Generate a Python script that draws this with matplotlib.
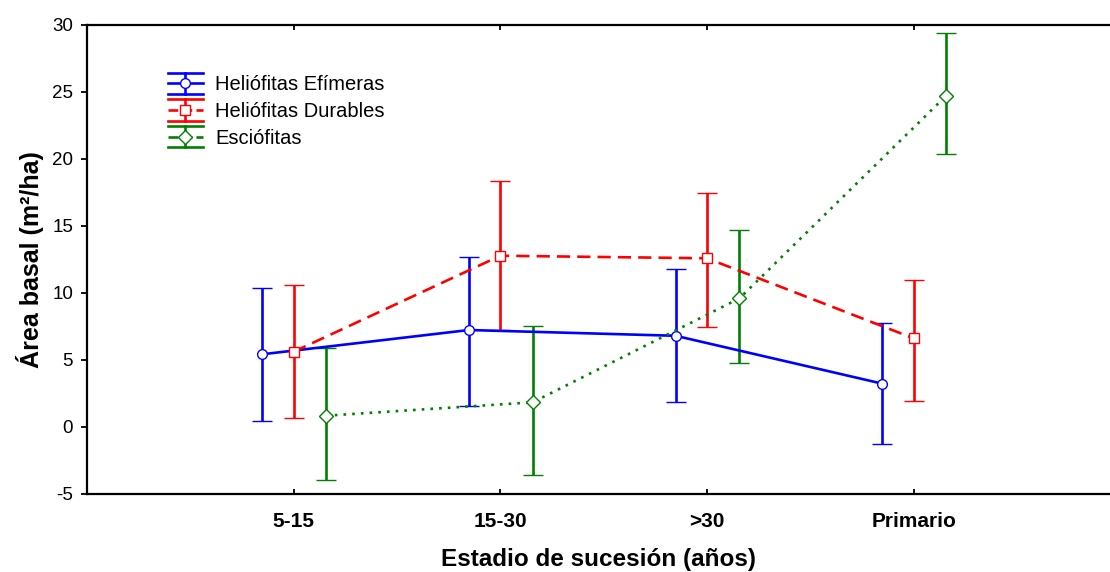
import numpy as np
import matplotlib
matplotlib.use("Agg")
import matplotlib.pyplot as plt
from matplotlib.lines import Line2D
from matplotlib.legend_handler import HandlerBase

plt.rcParams['font.family'] = ['Liberation Sans', 'DejaVu Sans']
plt.rcParams['axes.unicode_minus'] = False

# datos
estadios = ['5-15', '15-30', '>30', 'Primario']
series = ['Heliófitas Efímeras', 'Heliófitas Durables', 'Esciófitas']

efimeras_media = [5.42, 7.23, 6.80, 3.23]
efimeras_inf = [0.44, 1.58, 1.84, -1.30]
efimeras_sup = [10.36, 12.65, 11.76, 7.73]

durables_media = [5.61, 12.77, 12.58, 6.61]
durables_inf = [0.67, 7.23, 7.48, 1.94]
durables_sup = [10.59, 18.34, 17.42, 10.96]

esciofitas_media = [0.84, 1.84, 9.59, 24.70]
esciofitas_inf = [-3.98, -3.56, 4.79, 20.33]
esciofitas_sup = [5.91, 7.50, 14.66, 29.40]

medias = [efimeras_media, durables_media, esciofitas_media]
inferiores = [efimeras_inf, durables_inf, esciofitas_inf]
superiores = [efimeras_sup, durables_sup, esciofitas_sup]

colores = ['#0000ff', '#ff0000', '#008000']
estilos = ['-', (0, (5, 2.7)), (0, (1, 2.3))]
marcadores = ['o', 's', 'D']
tam_marcador = [7, 6.8, 6.8]
desplaz = [-0.152, 0.0, 0.157]
LW = 1.9


class ErrHandler(HandlerBase):
    # icono de leyenda: tapas anchas arriba y abajo, barra vertical, linea y marcador
    def create_artists(self, legend, orig_handle, xdescent, ydescent,
                       width, height, fontsize, trans):
        ln = orig_handle.lines[0]
        c = ln.get_color()
        cy = height / 2 - ydescent
        x0, x1 = -xdescent, -xdescent + width
        cx = (x0 + x1) / 2
        h = 7.6
        arts = []
        for yy in (cy + h, cy - h):
            arts.append(Line2D([x0, x1], [yy, yy], color=c, lw=LW))
        arts.append(Line2D([cx, cx], [cy - h, cy + h], color=c, lw=LW))
        arts.append(Line2D([x0, x1], [cy, cy], color=c, lw=LW,
                           linestyle=ln.get_linestyle()))
        arts.append(Line2D([cx], [cy], color=c, marker=ln.get_marker(),
                           markersize=ln.get_markersize(), markerfacecolor='white',
                           markeredgecolor=c, markeredgewidth=1.0, linestyle='none'))
        for a in arts:
            a.set_transform(trans)
        return arts


fig = plt.figure(figsize=(11.1, 5.72), dpi=100)
ax = fig.add_axes([87 / 1110, 1 - 494 / 572, 1 - 87 / 1110, (494 - 24.7) / 572])

x = np.arange(1, len(estadios) + 1)
handles = []
for i in range(3):
    m = np.array(medias[i])
    yerr = [m - np.array(inferiores[i]), np.array(superiores[i]) - m]
    eb = ax.errorbar(x + desplaz[i], m, yerr=yerr, color=colores[i],
                     linestyle=estilos[i], linewidth=LW, elinewidth=LW,
                     capsize=7.5, capthick=LW, marker=marcadores[i],
                     markersize=tam_marcador[i], markerfacecolor='white',
                     markeredgecolor=colores[i], markeredgewidth=1.0,
                     label=series[i], zorder=3)
    handles.append(eb)

ax.set_xlim(0, 4.95)
ax.set_ylim(-5, 30)
ax.set_yticks(np.arange(-5, 31, 5))
ax.set_xticks(x)
ax.set_xticklabels(estadios, fontsize=15, fontweight='bold')
ax.tick_params(axis='y', labelsize=13.5, direction='out', length=4, width=1.3, pad=6)
ax.tick_params(axis='x', direction='in', length=3.5, width=1.3, top=True, pad=13)
ax.spines['right'].set_visible(False)
for s in ['left', 'bottom', 'top']:
    ax.spines[s].set_linewidth(1.6)

ax.set_xlabel('Estadio de sucesión (años)', fontsize=17.5, fontweight='bold', labelpad=12)
ax.set_ylabel('Área basal (m²/ha)', fontsize=18, fontweight='bold', labelpad=6)

ax.legend(handles=handles, labels=series, loc='upper left',
          bbox_to_anchor=(0.079, 0.892), frameon=False, fontsize=14.5,
          handler_map={type(handles[0]): ErrHandler()},
          handlelength=1.75, handletextpad=0.6, labelspacing=0.38,
          borderpad=0, borderaxespad=0)

fig.savefig('out.png', dpi=100)
